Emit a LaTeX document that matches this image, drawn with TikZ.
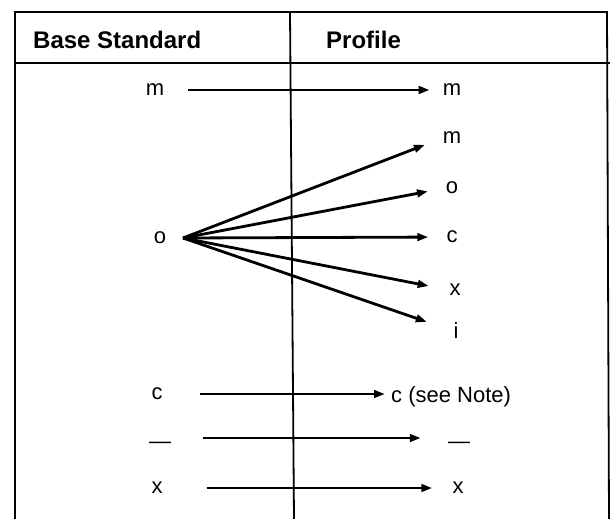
\documentclass[tikz,border=0pt]{standalone}
\usepackage{fontspec}
\setmainfont{Liberation Sans}
\usetikzlibrary{positioning,arrows.meta}

\begin{document}
\begin{tikzpicture}[x=1pt, y=-1pt, >={Triangle[length=11pt,width=7.5pt]},
 lbl/.style={font=\fontsize{22}{24}\selectfont, inner sep=0pt},
 head/.style={lbl, font=\fontsize{24}{26}\selectfont\bfseries, anchor=west},
 every edge/.append style={->, line width=2.8pt},
 frame/.style={line width=1.8pt}]

\useasboundingbox (0,0) rectangle (613,519);

% table frame
\draw[frame] (15,519) -- (15,12) -- (607,12) -- (609,519);
\draw[frame] (15,63) -- (610,63);
\draw[frame] (290,12) -- (294,519);

\node[head] (hbase) at (33,40) {Base Standard};
\node[head] (hprof) at (326,40) {Profile};

% base standard column
\node[lbl] (bm) at (155,90) {m};
\node[lbl] (bo) at (160,238) {o};
\node[lbl] (bc) at (157,394) {c};
\node[lbl] (bd) at (160,445) {\textemdash};
\node[lbl] (bx) at (157,488) {x};
\coordinate (ofan) at (183,238);

% profile column
\node[lbl] (pm) at (452,90) {m};
\node[lbl] (fm) at (452,138) {m};
\node[lbl] (fo) at (452,188) {o};
\node[lbl] (fc) at (452,237) {c};
\node[lbl] (fx) at (455,290) {x};
\node[lbl] (fi) at (456,331) {i};
\node[lbl, anchor=west] (pc) at (391,397) {c (see Note)};
\node[lbl] (pd) at (459,445) {\textemdash};
\node[lbl] (px) at (458,488) {x};

\path
 (bm) edge[shorten <=24pt, shorten >=13pt] (pm)
 (ofan) edge[shorten >=19pt] (fm.west)
 (ofan) edge[shorten >=18pt] (fo.west)
 (ofan) edge[shorten >=18pt] (fc.west)
 (ofan) edge[shorten >=21pt] (fx.west)
 (ofan) edge[shorten >=28pt] (fi.west)
 (bc.east) edge[shorten <=37pt, shorten >=6pt] (pc.west |- bc.east)
 ([yshift=7pt]bd.east) edge[shorten <=32pt, shorten >=27pt] ([yshift=7pt]pd.west)
 (bx.east) edge[shorten <=44pt, shorten >=20pt] (px.west);
\end{tikzpicture}
\end{document}
